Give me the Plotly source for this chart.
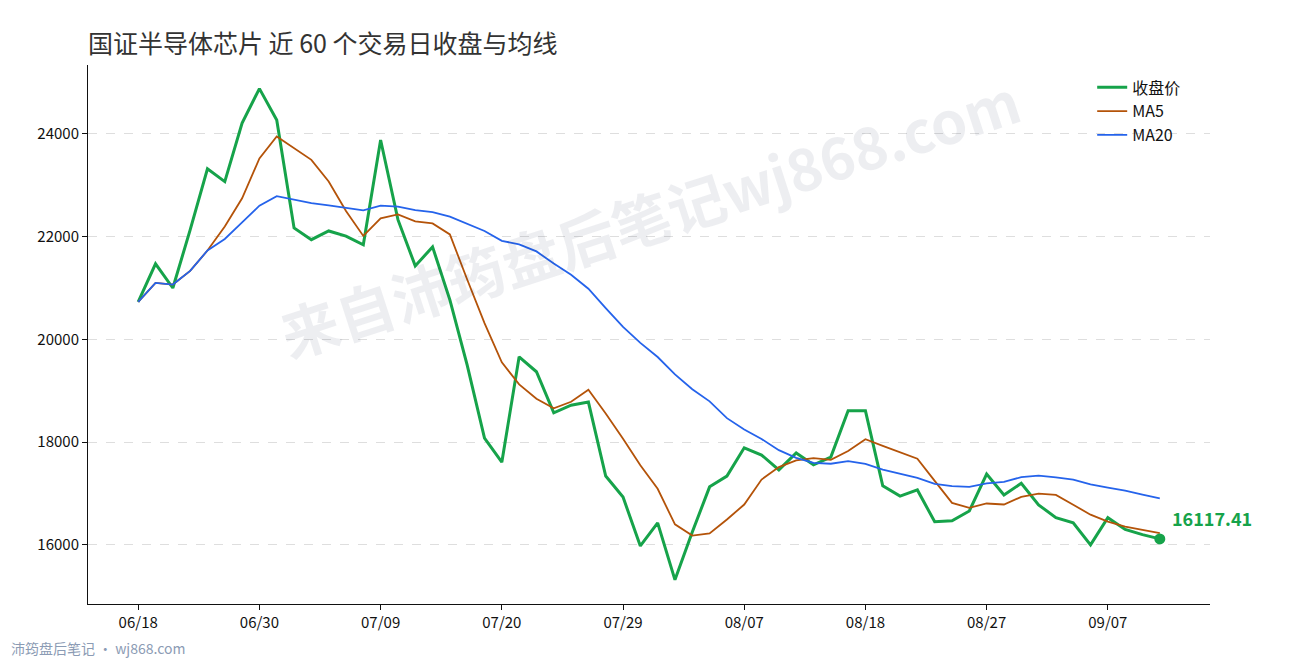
import pandas as pd
import plotly.graph_objects as go

# --- Data ---
tick_labels = ["06/18", "06/30", "07/09", "07/20", "07/29", "08/07", "08/18", "08/27", "09/07"]
tick_index = [0, 7, 14, 21, 28, 35, 42, 49, 56]

close = [
    20730, 21470, 21000, 22130, 23320, 23070, 24210, 24880, 24270, 22170,
    21940, 22110, 22010, 21840, 23880, 22330, 21430, 21800, 20770, 19500,
    18080, 17610, 19660, 19370, 18570, 18720, 18780, 17340, 16930, 15980,
    16430, 15320, 16250, 17130, 17340, 17890, 17750, 17460, 17790, 17560,
    17710, 18610, 18610, 17150, 16950, 17070, 16450, 16470, 16660, 17380,
    16970, 17200, 16780, 16530, 16430, 16000, 16530, 16300, 16200, 16117.41,
]

s = pd.Series(close)
ma5 = s.rolling(5, min_periods=1).mean()
ma20 = s.rolling(20, min_periods=1).mean()
idx = list(range(len(close)))

GREEN = "#16a34a"
fig = go.Figure()
fig.add_trace(go.Scatter(x=idx, y=close, name="收盘价", mode="lines",
                         line=dict(color=GREEN, width=3)))
fig.add_trace(go.Scatter(x=idx, y=ma5, name="MA5", mode="lines",
                         line=dict(color="#b45309", width=1.8)))
fig.add_trace(go.Scatter(x=idx, y=ma20, name="MA20", mode="lines",
                         line=dict(color="#2563eb", width=1.8)))
# last point marker
fig.add_trace(go.Scatter(x=[idx[-1]], y=[close[-1]], mode="markers", showlegend=False,
                         marker=dict(color=GREEN, size=11)))
fig.add_annotation(x=idx[-1], y=close[-1], text=f"<b>{close[-1]:.2f}</b>",
                   showarrow=False, xanchor="left", yanchor="bottom",
                   xshift=10, yshift=6, font=dict(color=GREEN, size=18))

# watermark
fig.add_annotation(xref="paper", yref="paper", x=0.50, y=1.02,
                   text="<b>来自沛筠盘后笔记wj868.com</b>", showarrow=False,
                   textangle=-18, font=dict(size=58, color="rgba(30,41,82,0.08)"))
# footer
fig.add_annotation(xref="paper", yref="paper", x=-0.07, y=-0.06, xanchor="left",
                   yanchor="top", text="沛筠盘后笔记 · wj868.com", showarrow=False,
                   font=dict(size=14, color="#8b9bb4"))

font = "Noto Sans CJK SC"
fig.update_layout(
    width=1290, height=660,
    font=dict(family=font, size=14, color="#111"),
    title=dict(text="国证半导体芯片 近 60 个交易日收盘与均线", x=0.062, y=0.958,
               font=dict(size=25, color="#333")),
    plot_bgcolor="white", paper_bgcolor="white",
    margin=dict(l=80, r=88, t=57, b=64),
    legend=dict(x=0.895, y=0.99, xanchor="left", yanchor="top",
                bgcolor="rgba(0,0,0,0)", font=dict(size=16)),
    xaxis=dict(range=[-2.9, 61.9], tickvals=tick_index, ticktext=tick_labels,
               showgrid=False, zeroline=False, showline=True, linecolor="#111",
               ticks="outside", ticklen=5, tickcolor="#111", tickfont=dict(size=15)),
    yaxis=dict(range=[14850, 25340], tickvals=[16000, 18000, 20000, 22000, 24000],
               tickformat="d", showgrid=True, gridcolor="#dedede", griddash="dash",
               zeroline=False, showline=True, linecolor="#111",
               ticks="outside", ticklen=5, tickcolor="#111", tickfont=dict(size=15)),
)

fig.write_html("out.html")
